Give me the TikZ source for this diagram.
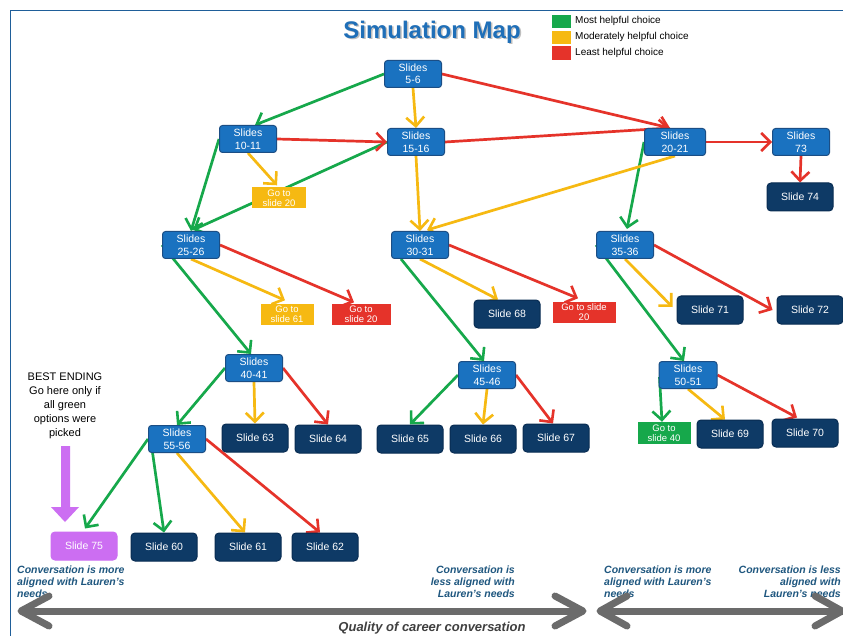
\documentclass[tikz,border=0pt]{standalone}
\usepackage{fontspec}
\setmainfont{Liberation Sans}
\usetikzlibrary{arrows.meta,calc,backgrounds}
\definecolor{cg}{HTML}{16A84B}
\definecolor{cy}{HTML}{F6B912}
\definecolor{cr}{HTML}{E5332A}
\definecolor{lbf}{HTML}{1A72C0}
\definecolor{lbd}{HTML}{1B4E85}
\definecolor{nvf}{HTML}{0E3A66}
\definecolor{nvd}{HTML}{082C52}
\definecolor{puf}{HTML}{CC6EF2}
\definecolor{ttl}{HTML}{1F6FB8}
\definecolor{txb}{HTML}{1F577F}
\definecolor{grr}{HTML}{6B6B6B}
\definecolor{frm}{HTML}{1F5E99}
\tikzset{
  bluebox/.style={draw=lbd, fill=lbf, line width=1pt, rounded corners=3pt, minimum width=57pt, minimum height=27pt, inner sep=0pt, text=white, align=center, font=\fontsize{10.5}{12.5}\selectfont},
  navybox/.style={draw=nvd, fill=nvf, line width=1pt, rounded corners=4pt, minimum width=66pt, minimum height=28pt, inner sep=0pt, text=white, align=center, font=\fontsize{10.5}{12}\selectfont},
  gobox/.style={minimum width=54pt, minimum height=21pt, inner sep=0pt, text=white, align=center, font=\fontsize{9.5}{10.5}\selectfont},
  arr/.style={line width=2.7pt, -{Straight Barb[length=9pt,width=18pt,line width=2.6pt]}},
  ga/.style={arr, draw=cg},
  ya/.style={arr, draw=cy},
  ra/.style={arr, draw=cr},
  bottxt/.style={text=txb, font=\fontsize{10.5}{12}\selectfont\bfseries\itshape, inner sep=0pt},
  bigarr/.style={draw=grr, line width=7pt, line cap=round, line join=round},
  legtxt/.style={anchor=west, inner sep=0pt, font=\fontsize{10}{11}\selectfont}
}
\begin{document}
\begin{tikzpicture}[x=1pt,y=-1pt]
\useasboundingbox (0,0) rectangle (843,636);
\begin{scope}[on background layer]
\fill[white] (0,0) rectangle (843,636);
\end{scope}
% frame
\draw[frm, line width=1.6pt] (10.5,660) -- (10.5,10.5) -- (860,10.5);
% title
\node[text=black!25, font=\fontsize{24}{26}\selectfont\bfseries] at (433.5,33.5) {Simulation Map};
\node (title) [text=ttl, font=\fontsize{24}{26}\selectfont\bfseries] at (432,32) {Simulation Map};
% legend
\fill[cg] (552,15) rectangle (571,28);
\fill[cy] (552,31) rectangle (571,44);
\fill[cr] (552,46) rectangle (571,60);
\node (l1) [legtxt] at (575,21) {Most helpful choice};
\node (l2) [legtxt] at (575,37) {Moderately helpful choice};
\node (l3) [legtxt] at (575,53) {Least helpful choice};
% nodes
\node (s56) [bluebox] at (413,74) {Slides\\5-6};
\node (s1011) [bluebox] at (248,139) {Slides\\10-11};
\node (s1516) [bluebox] at (416,142) {Slides\\15-16};
\node (s2021) [bluebox, minimum width=61pt] at (675,142) {Slides\\20-21};
\node (s73) [bluebox] at (801,142) {Slides\\73};
\node (sl74) [navybox] at (800,197) {Slide 74};
\node (goA) [gobox, fill=cy] at (279,198) {Go to\\slide 20};
\node (s2526) [bluebox] at (191,245) {Slides\\25-26};
\node (s3031) [bluebox] at (420,245) {Slides\\30-31};
\node (s3536) [bluebox] at (625,245) {Slides\\35-36};
\node (go61) [gobox, fill=cy, minimum width=53pt] at (287,314) {Go to\\slide 61};
\node (goR1) [gobox, fill=cr, minimum width=59pt] at (361,314) {Go to\\slide 20};
\node (sl68) [navybox] at (507,314) {Slide 68};
\node (goR2) [gobox, fill=cr, minimum width=63pt] at (584,312) {Go to slide\\20};
\node (sl71) [navybox] at (710,310) {Slide 71};
\node (sl72) [navybox] at (810,310) {Slide 72};
\node (s4041) [bluebox] at (254,368) {Slides\\40-41};
\node (s4546) [bluebox] at (487,375) {Slides\\45-46};
\node (s5051) [bluebox, minimum width=58pt] at (688,375) {Slides\\50-51};
\node (s5556) [bluebox] at (177,439) {Slides\\55-56};
\node (sl63) [navybox] at (255,438) {Slide 63};
\node (sl64) [navybox] at (328,439) {Slide 64};
\node (sl65) [navybox] at (410,439) {Slide 65};
\node (sl66) [navybox] at (483,439) {Slide 66};
\node (sl67) [navybox] at (556,438) {Slide 67};
\node (go40) [gobox, fill=cg, minimum width=53pt, minimum height=22pt] at (664,433) {Go to\\slide 40};
\node (sl69) [navybox] at (730,434) {Slide 69};
\node (sl70) [navybox] at (805,433) {Slide 70};
\node (sl75) [navybox, fill=puf, draw=puf] at (84,546) {Slide 75};
\node (sl60) [navybox] at (164,547) {Slide 60};
\node (sl61) [navybox] at (248,547) {Slide 61};
\node (sl62) [navybox] at (325,547) {Slide 62};
% connectors
\begin{scope}[on background layer]
% green
\draw[ga] (s56.west) -- ($(s1011.north)+(7,0)$);
\draw[ga] (s1011.west) -- (s2526.north);
\draw[ga] (s1516.west) -- ($(s2526.north)+(2,-1)$);
\draw[ga] (s2526.west) -- ($(s4041.north)+(-3,0)$);
\draw[ga] (s4041.west) -- (s5556.north);
\draw[ga] (s5556.west) -- ($(sl75.north)+(1,-3)$);
\draw[ga] ($(s5556.west)+(3,3)$) -- (sl60.north);
\draw[ga] ($(s3031.south west)+(10,0)$) -- ($(s4546.north)+(-3,0)$);
\draw[ga] (s4546.west) -- (sl65.north);
\draw[ga] (s2021.west) -- ($(s3536.north)+(2,-2)$);
\draw[ga] (s3536.west) -- ($(s5051.north)+(-4,0)$);
\draw[ga] ($(s5051.west)+(1,2)$) -- ($(go40.north)+(-2,0)$);
% yellow
\draw[ya] (s56.south) -- (s1516.north);
\draw[ya] (s1011.south) -- ($(goA.north)+(-2,-2)$);
\draw[ya] (s1516.south) -- (s3031.north);
\draw[ya] (s2021.south) -- ($(s3031.north)+(7,-1)$);
\draw[ya] (s2526.south) -- ($(go61.north)+(-2,-3)$);
\draw[ya] (s3031.south) -- ($(sl68.north)+(-9,0)$);
\draw[ya] (s3536.south) -- ($(sl71.west)+(-4,-3)$);
\draw[ya] (s4041.south) -- (sl63.north);
\draw[ya] (s4546.south) -- (sl66.north);
\draw[ya] (s5051.south) -- ($(sl69.north)+(-5,0)$);
\draw[ya] (s5556.south) -- ($(sl61.north)+(-3,0)$);
% red
\draw[ra] (s56.east) -- ($(s2021.north)+(-5,0)$);
\draw[ra] (s1516.east) -- ($(s2021.north)+(-5,0)$);
\draw[ra] (s1011.east) -- (s1516.west);
\draw[ra] (s2021.east) -- (s73.west);
\draw[ra] (s73.south) -- (sl74.north);
\draw[ra] (s2526.east) -- ($(goR1.north)+(-7,-1)$);
\draw[ra] (s3031.east) -- ($(goR2.north)+(-6,-3)$);
\draw[ra] (s3536.east) -- ($(sl72.west)+(-4,0)$);
\draw[ra] (s4041.east) -- (sl64.north);
\draw[ra] (s4546.east) -- ($(sl67.north)+(-3,0)$);
\draw[ra] (s5051.east) -- ($(sl70.north)+(-8,-1)$);
\draw[ra] (s5556.east) -- ($(sl62.north)+(-5,0)$);
\end{scope}
% best ending
\node (best) [anchor=north, align=center, inner sep=0pt, font=\fontsize{11}{14}\selectfont] at (65,373) {BEST ENDING\\Go here only if\\all green\\options were\\picked};
\fill[puf] (61,446) -- (70,446) -- (70,507) -- (79,507) -- (65,522) -- (51,507) -- (61,507) -- cycle;
% bottom texts
\node (t1) [bottxt, anchor=north west, align=left] at (17,566) {Conversation is more\\aligned with Lauren's\\needs};
\node (t2) [bottxt, anchor=north east, align=right] at (515,566) {Conversation is\\less aligned with\\Lauren's needs};
\node (t3) [bottxt, anchor=north west, align=left] at (604,566) {Conversation is more\\aligned with Lauren's\\needs};
\node (t4) [bottxt, anchor=north east, align=right] at (841,566) {Conversation is less\\aligned with\\Lauren's needs};
% big arrows
\draw[bigarr] (22,611) -- (582,611);
\draw[bigarr] (49,596) -- (21,611) -- (49,626);
\draw[bigarr] (555,596) -- (583,611) -- (555,626);
\draw[bigarr] (601,611) -- (845,611);
\draw[bigarr] (627,596) -- (600,611) -- (627,626);
\draw[bigarr] (815,596) -- (842,611) -- (815,626);
\node (qual) [anchor=base, text=black!75, font=\fontsize{13}{15}\selectfont\bfseries\itshape] at (432,631) {Quality of career conversation};
\end{tikzpicture}
\end{document}
